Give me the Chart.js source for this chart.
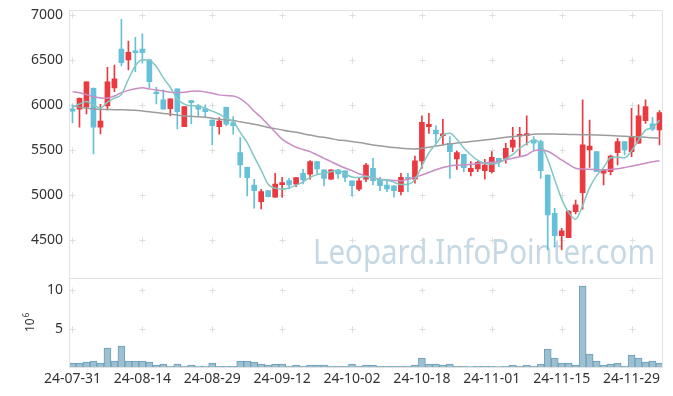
<!DOCTYPE html>
<html>
<head>
<meta charset="utf-8">
<script src="https://cdn.jsdelivr.net/npm/chart.js@4.4.1/dist/chart.umd.min.js"></script>
<style>
  html, body { margin: 0; padding: 0; background: #fff; }
  canvas { display: block; }
</style>
</head>
<body>
<canvas id="stockChart" width="673" height="396"></canvas>
<script>
// trading days, 24-07-31 .. 24-12-05
const dates = [
  "24-07-31","24-08-01","24-08-02","24-08-05","24-08-06","24-08-07","24-08-08","24-08-09","24-08-12","24-08-13",
  "24-08-14","24-08-16","24-08-19","24-08-20","24-08-21","24-08-22","24-08-23","24-08-26","24-08-27","24-08-28",
  "24-08-29","24-08-30","24-09-02","24-09-03","24-09-04","24-09-05","24-09-06","24-09-09","24-09-10","24-09-11",
  "24-09-12","24-09-13","24-09-19","24-09-20","24-09-23","24-09-24","24-09-25","24-09-26","24-09-27","24-09-30",
  "24-10-02","24-10-04","24-10-07","24-10-08","24-10-10","24-10-11","24-10-14","24-10-15","24-10-16","24-10-17",
  "24-10-18","24-10-21","24-10-22","24-10-23","24-10-24","24-10-25","24-10-28","24-10-29","24-10-30","24-10-31",
  "24-11-01","24-11-04","24-11-05","24-11-06","24-11-07","24-11-08","24-11-11","24-11-12","24-11-13","24-11-14",
  "24-11-15","24-11-18","24-11-19","24-11-20","24-11-21","24-11-22","24-11-25","24-11-26","24-11-27","24-11-28",
  "24-11-29","24-12-02","24-12-03","24-12-04","24-12-05"
];

const opens = [
  5956,5952,5975,6186,5752,5989,6189,6622,6500,6600,
  6622,6500,6144,6056,5959,6178,5759,6048,5989,5959,
  5833,5759,5974,5804,5470,5307,5111,4926,5048,4974,
  5115,5159,5119,5241,5230,5370,5278,5174,5278,5267,
  5156,5063,5174,5296,5174,5111,5100,5037,5196,5174,
  5378,5759,5722,5659,5574,5400,5452,5259,5289,5270,
  5259,5407,5407,5530,5656,5659,5611,5593,5222,4796,
  4548,4526,4815,5026,5500,5481,5241,5259,5470,5593,
  5481,5574,5826,5789,5722
];
const highs = [
  6000,6080,6256,6190,6008,6419,6444,6952,6711,6752,
  6789,6510,6197,6167,6067,6180,5985,6050,6008,6000,
  5835,5859,5976,5870,5637,5310,5174,5063,5050,5241,
  5196,5185,5195,5285,5381,5372,5280,5280,5285,5269,
  5158,5185,5352,5407,5196,5174,5102,5241,5241,5433,
  5878,5907,5767,5841,5648,5489,5454,5370,5378,5396,
  5481,5409,5574,5752,5752,5878,5648,5611,5224,4852,
  4630,4824,4944,6056,5833,5483,5280,5444,5630,5595,
  5963,6000,6056,5863,5937
];
const lows = [
  5800,5752,5900,5456,5678,5944,6148,6433,6389,6370,
  6463,6192,6011,5952,5878,5733,5759,5789,5878,5863,
  5556,5674,5770,5674,5196,4989,4852,4844,4978,4972,
  4974,5067,5093,5122,5174,5233,5100,5172,5185,5148,
  4989,5048,5148,5111,5048,5037,4974,5000,5037,5130,
  5296,5685,5574,5556,5185,5285,5259,5211,5259,5174,
  5241,5315,5352,5481,5437,5556,5493,5185,4389,4426,
  4389,4524,4789,4841,5307,5259,5111,5222,5333,5444,
  5426,5572,5796,5715,5556
];
const closes = [
  5930,6074,6256,5752,5822,6256,6289,6470,6586,6581,
  6581,6259,6126,5952,6067,5926,5981,6026,5952,5926,
  5770,5822,5786,5770,5333,5193,5048,5037,4981,5122,
  5137,5111,5193,5167,5370,5289,5185,5278,5233,5196,
  5104,5156,5333,5159,5104,5067,5048,5196,5174,5378,
  5808,5786,5678,5678,5481,5470,5304,5296,5363,5333,
  5419,5370,5519,5611,5674,5681,5574,5270,4778,4548,
  4600,4822,4889,5556,5544,5259,5278,5433,5593,5500,
  5648,5878,5981,5730,5915
];

// moving averages as drawn (5, 20, 60 days)
const ma5 = [
  5975,6010,6037,6000,5967,6032,6075,6118,6285,6436,
  6501,6495,6427,6300,6197,6066,6010,5990,5990,5962,
  5931,5899,5851,5815,5696,5581,5426,5276,5118,5076,
  5065,5078,5109,5146,5196,5226,5241,5258,5271,5236,
  5199,5193,5204,5190,5171,5164,5142,5115,5118,5173,
  5321,5468,5565,5666,5686,5619,5522,5446,5383,5353,
  5343,5356,5401,5450,5519,5571,5612,5562,5395,5170,
  4954,4804,4730,4883,5082,5214,5305,5414,5421,5413,
  5490,5610,5720,5747,5830
];
const ma20 = [
  6148,6135,6115,6090,6078,6075,6100,6135,6162,6180,
  6192,6178,6165,6155,6140,6138,6141,6152,6155,6145,
  6130,6112,6104,6100,6070,6010,5930,5860,5780,5700,
  5620,5570,5530,5505,5481,5445,5407,5370,5333,5300,
  5270,5235,5210,5188,5175,5167,5160,5156,5175,5195,
  5222,5250,5280,5305,5322,5330,5335,5340,5350,5356,
  5362,5372,5390,5407,5425,5444,5490,5500,5485,5440,
  5389,5340,5296,5288,5285,5281,5278,5282,5292,5305,
  5318,5335,5352,5368,5381
];
const ma60 = [
  5989,5975,5965,5955,5952,5950,5948,5946,5944,5940,
  5933,5925,5915,5906,5896,5887,5878,5874,5870,5863,
  5852,5842,5833,5826,5813,5800,5786,5770,5750,5737,
  5722,5708,5697,5680,5665,5650,5640,5626,5611,5604,
  5593,5582,5570,5556,5546,5535,5526,5519,5514,5511,
  5518,5530,5543,5556,5568,5577,5585,5593,5601,5610,
  5620,5630,5640,5650,5656,5665,5674,5677,5678,5677,
  5675,5673,5671,5670,5669,5667,5664,5660,5655,5651,
  5648,5644,5640,5635,5630
];

// volume, millions of shares
const volumes = [
  0.52,0.52,0.65,0.78,0.52,2.48,0.78,2.74,0.78,0.78,
  0.78,0.65,0.26,0.39,0.13,0.39,0.13,0.26,0.13,0.13,
  0.52,0.10,0.10,0.10,0.78,0.78,0.65,0.39,0.26,0.39,
  0.39,0.13,0.26,0.13,0.26,0.26,0.26,0.13,0.10,0.10,
  0.39,0.10,0.26,0.26,0.10,0.10,0.10,0.10,0.10,0.26,
  1.17,0.39,0.39,0.26,0.39,0.10,0.10,0.05,0.10,0.10,
  0.10,0.05,0.10,0.26,0.10,0.26,0.10,0.39,2.35,1.17,
  0.52,0.52,0.26,10.57,1.70,0.78,0.26,0.39,0.52,0.10,
  1.57,1.17,0.65,0.78,0.52
];

const priceTicks = [4500, 5000, 5500, 6000, 6500, 7000];
const volTicks = [5, 10];
const labelEvery = 10;

const UP = "#ea3a40";
const DOWN = "#66c0d8";
const candleColor = c => closes[c.dataIndex] >= opens[c.dataIndex] ? UP : DOWN;
const FONT = '"Noto Sans", "DejaVu Sans", sans-serif';

const deco = {
  id: "deco",
  beforeDraw(chart) {
    const ctx = chart.ctx;
    ctx.save();
    ctx.fillStyle = "#fff";
    ctx.fillRect(0, 0, chart.width, chart.height);
    ctx.restore();
  },
  beforeDatasetsDraw(chart) {
    const { ctx, scales } = chart;
    ctx.save();
    // small crosses instead of grid lines
    ctx.strokeStyle = "#dedede";
    ctx.lineWidth = 1;
    const ys = priceTicks.map(v => scales.y.getPixelForValue(v))
      .concat(volTicks.map(v => scales.yv.getPixelForValue(v)));
    for (let i = 0; i < dates.length; i += labelEvery) {
      const x = Math.round(scales.x.getPixelForValue(i)) + 0.5;
      ys.forEach(yy => {
        const y = Math.round(yy) + 0.5;
        ctx.beginPath();
        ctx.moveTo(x - 3, y); ctx.lineTo(x + 3, y);
        ctx.moveTo(x, y - 3); ctx.lineTo(x, y + 3);
        ctx.stroke();
      });
    }
    // watermark
    ctx.font = "34px " + FONT;
    const txt = "Leopard.InfoPointer.com";
    const w = ctx.measureText(txt).width;
    ctx.translate(313, 264);
    ctx.scale(342 / w, 1);
    ctx.fillStyle = "#c5d8e4";
    ctx.textBaseline = "alphabetic";
    ctx.fillText(txt, 0, 0);
    ctx.restore();
  },
  afterDraw(chart) {
    const { ctx, chartArea: a, scales } = chart;
    ctx.save();
    ctx.strokeStyle = "#e2e2e2";
    ctx.lineWidth = 1;
    ctx.strokeRect(Math.round(a.left) + 0.5, Math.round(a.top) + 0.5,
      Math.round(a.right - a.left) - 1, Math.round(a.bottom - a.top));
    const sep = Math.round(scales.yv.top) + 0.5;
    ctx.beginPath();
    ctx.moveTo(a.left, sep); ctx.lineTo(a.right, sep);
    ctx.stroke();
    // 10^6 unit label for volume
    ctx.fillStyle = "#333";
    ctx.translate(34, 332);
    ctx.rotate(-Math.PI / 2);
    ctx.font = "12px " + FONT;
    ctx.fillText("10", 0, 0);
    const w = ctx.measureText("10").width;
    ctx.font = "8px " + FONT;
    ctx.fillText("6", w + 1, -5);
    ctx.restore();
  }
};

const tickFont = { family: FONT, size: 14 };
const noGrid = { display: false, drawTicks: false };
// fixed axis sizes, no extra room for overhanging labels
const fitY = s => { s.width = 69; s.paddingTop = 0; s.paddingBottom = 0; };
const fitX = s => { s.height = 29; s.paddingLeft = 0; s.paddingRight = 0; };

new Chart(document.getElementById("stockChart"), {
  data: {
    labels: dates,
    datasets: [
      { type: "line", label: "MA5", data: ma5, yAxisID: "y", borderColor: "#82c7c4",
        borderWidth: 1.5, pointRadius: 0, cubicInterpolationMode: "monotone", order: 0 },
      { type: "line", label: "MA20", data: ma20, yAxisID: "y", borderColor: "#c98cc4",
        borderWidth: 1.5, pointRadius: 0, cubicInterpolationMode: "monotone", order: 0 },
      { type: "line", label: "MA60", data: ma60, yAxisID: "y", borderColor: "#9c9c9c",
        borderWidth: 1.5, pointRadius: 0, cubicInterpolationMode: "monotone", order: 0 },
      { type: "bar", label: "body", data: opens.map((o, i) => [o, closes[i]]), yAxisID: "y",
        backgroundColor: candleColor, barThickness: 5, grouped: false, order: 1 },
      { type: "bar", label: "wick", data: lows.map((l, i) => [l, highs[i]]), yAxisID: "y",
        backgroundColor: candleColor, barThickness: 1, grouped: false, order: 2 },
      { type: "bar", label: "volume", data: volumes, yAxisID: "yv",
        backgroundColor: "#9cc0d1", borderColor: "#6d9fb6", borderWidth: 1,
        barPercentage: 1, categoryPercentage: 1, grouped: false, order: 3 }
    ]
  },
  options: {
    responsive: false,
    animation: false,
    devicePixelRatio: 1,
    layout: { padding: { top: 10, right: 10, left: 0, bottom: 0 } },
    plugins: { legend: { display: false }, tooltip: { enabled: false } },
    scales: {
      x: {
        type: "category",
        offset: true,
        grid: noGrid,
        border: { display: false },
        afterFit: fitX,
        ticks: {
          autoSkip: false, maxRotation: 0, minRotation: 0, padding: 4,
          color: "#333", font: tickFont,
          callback(v, i) { return i % labelEvery === 0 ? this.getLabelForValue(v) : null; }
        }
      },
      yv: {
        type: "linear", position: "left", stack: "panes", stackWeight: 1,
        min: 0, max: 11.65,
        grid: noGrid,
        border: { display: false },
        afterFit: fitY,
        afterBuildTicks: s => { s.ticks = volTicks.map(v => ({ value: v })); },
        ticks: { padding: 6, color: "#333", font: tickFont, callback: v => String(v) }
      },
      y: {
        type: "linear", position: "left", stack: "panes", stackWeight: 3,
        min: 4080, max: 7055,
        grid: noGrid,
        border: { display: false },
        afterFit: fitY,
        afterBuildTicks: s => { s.ticks = priceTicks.map(v => ({ value: v })); },
        ticks: { padding: 6, color: "#333", font: tickFont, callback: v => String(v) }
      }
    }
  },
  plugins: [deco]
});
</script>
</body>
</html>
